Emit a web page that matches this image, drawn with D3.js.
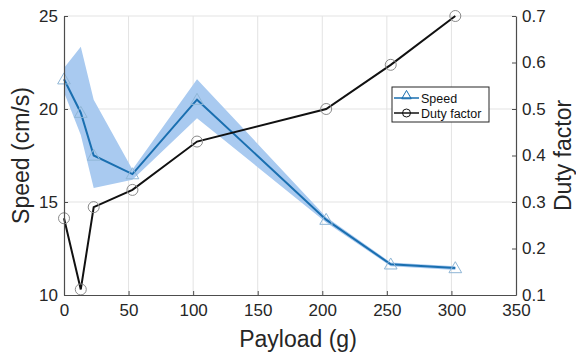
<!DOCTYPE html>
<html>
<head>
<meta charset="utf-8">
<script src="https://cdn.jsdelivr.net/npm/d3@7"></script>
<style>
  body { margin: 0; background: #fff; }
  text { font-family: "Liberation Sans", Arial, sans-serif; }
</style>
</head>
<body>
<div id="chart"></div>
<script>
// data
var payload = [0, 13, 23, 53, 103, 203, 253, 303];
var speed = [21.6, 19.8, 17.5, 16.5, 20.5, 14.05, 11.65, 11.45];
var speedHi = [22.2, 23.35, 20.5, 16.75, 21.6, 14.2, 11.75, 11.55];
var speedLo = [20.9, 18.6, 15.75, 16.2, 19.5, 13.9, 11.55, 11.35];
var duty = [0.265, 0.112, 0.289, 0.326, 0.43, 0.5, 0.595, 0.7];
var xTicks = [0, 50, 100, 150, 200, 250, 300, 350];
var yTicks = [10, 15, 20, 25];
var y2Ticks = [0.1, 0.2, 0.3, 0.4, 0.5, 0.6, 0.7];

var W = 576, H = 354;
var margin = {top: 16, right: 60, bottom: 59, left: 64},
  width = W - margin.left - margin.right,
  height = H - margin.top - margin.bottom;

var svg = d3.select("#chart")
.append("svg")
  .attr("width", W)
  .attr("height", H)
.append("g")
  .attr("transform", "translate(" + margin.left + "," + margin.top + ")");

var x = d3.scaleLinear().domain([0, 350]).range([0, width]);
var y = d3.scaleLinear().domain([10, 25]).range([height, 0]);
var y2 = d3.scaleLinear().domain([0.1, 0.7]).range([height, 0]);

// grid
svg.append("g").selectAll("line")
  .data(xTicks.slice(1, -1))
  .enter().append("line")
  .attr("x1", d => x(d)).attr("x2", d => x(d))
  .attr("y1", 0).attr("y2", height)
  .attr("stroke", "#e3e3e3").attr("stroke-width", 1);
svg.append("g").selectAll("line")
  .data(yTicks.slice(1))
  .enter().append("line")
  .attr("x1", 0).attr("x2", width)
  .attr("y1", d => y(d)).attr("y2", d => y(d))
  .attr("stroke", "#e3e3e3").attr("stroke-width", 1);

// shaded band for speed
var band = payload.map((p, i) => ({p: p, lo: speedLo[i], hi: speedHi[i]}));
svg.append("path")
  .datum(band)
  .attr("fill", "#a9caf0")
  .attr("d", d3.area().x(d => x(d.p)).y0(d => y(d.lo)).y1(d => y(d.hi)));

// speed line
var speedPts = payload.map((p, i) => ({p: p, v: speed[i]}));
svg.append("path")
  .datum(speedPts)
  .attr("fill", "none")
  .attr("stroke", "#1a6fb0")
  .attr("stroke-width", 2)
  .attr("d", d3.line().x(d => x(d.p)).y(d => y(d.v)));

var tri = d3.symbol().type(d3.symbolTriangle).size(70);
svg.append("g").selectAll("path")
  .data(speedPts)
  .enter().append("path")
  .attr("d", tri)
  .attr("transform", d => "translate(" + x(d.p) + "," + (y(d.v) + 1) + ")")
  .attr("fill", "none")
  .attr("stroke", "#8fb6d6")
  .attr("stroke-width", 1);

// duty factor line
var dutyPts = payload.map((p, i) => ({p: p, v: duty[i]}));
svg.append("path")
  .datum(dutyPts)
  .attr("fill", "none")
  .attr("stroke", "#111")
  .attr("stroke-width", 2)
  .attr("d", d3.line().x(d => x(d.p)).y(d => y2(d.v)));

svg.append("g").selectAll("circle")
  .data(dutyPts)
  .enter().append("circle")
  .attr("cx", d => x(d.p))
  .attr("cy", d => y2(d.v))
  .attr("r", 5.5)
  .attr("fill", "none")
  .attr("stroke", "#8a8a8a")
  .attr("stroke-width", 1);

// axes
var axisColor = "#4d4d4d";
function styleAxis(g) {
  g.select(".domain").attr("stroke", axisColor).attr("stroke-width", 1.2);
  g.selectAll(".tick line").attr("stroke", axisColor);
  g.selectAll(".tick text").attr("fill", "#262626")
    .style("font-size", "17px");
}

svg.append("g")
  .attr("transform", "translate(0," + height + ")")
  .call(d3.axisBottom(x).tickValues(xTicks).tickSizeInner(-4).tickSizeOuter(0).tickPadding(9))
  .call(styleAxis);

svg.append("g")
  .call(d3.axisLeft(y).tickValues(yTicks).tickSizeInner(-4).tickSizeOuter(0).tickPadding(6))
  .call(styleAxis);

svg.append("g")
  .attr("transform", "translate(" + width + ",0)")
  .call(d3.axisRight(y2).tickValues(y2Ticks).tickFormat(d3.format(".1f"))
    .tickSizeInner(-4).tickSizeOuter(0).tickPadding(6))
  .call(styleAxis);

// axis labels
svg.append("text")
  .attr("x", width / 2 + 8)
  .attr("y", height + 52)
  .attr("text-anchor", "middle")
  .style("font-size", "23px")
  .attr("fill", "#262626")
  .text("Payload (g)");

svg.append("text")
  .attr("transform", "translate(-35," + (height / 2) + ") rotate(-90)")
  .attr("text-anchor", "middle")
  .style("font-size", "23px")
  .attr("fill", "#262626")
  .text("Speed (cm/s)");

svg.append("text")
  .attr("transform", "translate(" + (width + 55) + "," + (height / 2) + ") rotate(-90)")
  .attr("text-anchor", "middle")
  .style("font-size", "23px")
  .attr("fill", "#262626")
  .text("Duty factor");

// legend
var lg = svg.append("g").attr("transform", "translate(" + (392 - margin.left) + "," + (87 - margin.top) + ")");
lg.append("rect")
  .attr("width", 97).attr("height", 35)
  .attr("fill", "#fff").attr("stroke", "#262626").attr("stroke-width", 1);
var items = [
  {name: "Speed", color: "#1a6fb0", mark: "tri", mcolor: "#1a6fb0"},
  {name: "Duty factor", color: "#111", mark: "circle", mcolor: "#111"}
];
items.forEach(function(it, i) {
  var yy = 11 + i * 15;
  lg.append("line").attr("x1", 2).attr("x2", 27).attr("y1", yy).attr("y2", yy)
    .attr("stroke", it.color).attr("stroke-width", 1.5);
  if (it.mark === "tri") {
    lg.append("path").attr("d", d3.symbol().type(d3.symbolTriangle).size(40))
      .attr("transform", "translate(14.5," + (yy - 2) + ")")
      .attr("fill", "none").attr("stroke", it.mcolor).attr("stroke-width", 1);
  } else {
    lg.append("circle").attr("cx", 14.5).attr("cy", yy).attr("r", 4)
      .attr("fill", "none").attr("stroke", it.mcolor).attr("stroke-width", 1);
  }
  lg.append("text").attr("x", 29).attr("y", yy + 4.5)
    .style("font-size", "12.5px").attr("fill", "#111").text(it.name);
});
</script>
</body>
</html>
